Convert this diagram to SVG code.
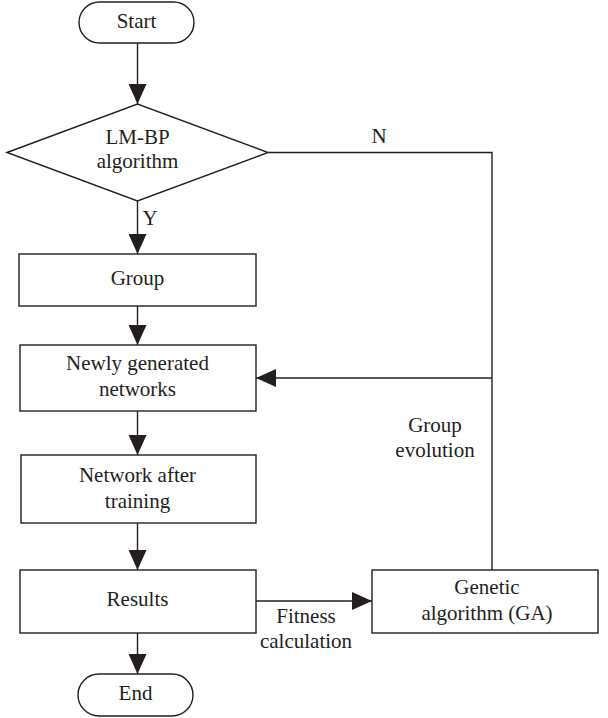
<svg xmlns="http://www.w3.org/2000/svg" width="608" height="718" viewBox="0 0 608 718">
<style>
.shape{fill:#fff;stroke:#231f20;stroke-width:1.4}
.conn{fill:none;stroke:#231f20;stroke-width:1.4}
text{font-family:"Liberation Serif","Times New Roman",serif;font-size:21px;fill:#231f20;text-anchor:middle}
</style>
<defs>
<marker id="arr" viewBox="0 0 20 18" refX="20" refY="9" markerWidth="20" markerHeight="18" markerUnits="userSpaceOnUse" orient="auto">
<path d="M0,0 L20,9 L0,18 z" fill="#231f20"/>
</marker>
</defs>
<rect width="608" height="718" fill="#fff"/>
<g id="connectors">
<path class="conn" d="M137.5 43 V104" marker-end="url(#arr)"/>
<path class="conn" d="M137.5 201 V254" marker-end="url(#arr)"/>
<path class="conn" d="M137.5 306 V345" marker-end="url(#arr)"/>
<path class="conn" d="M137.5 411 V455" marker-end="url(#arr)"/>
<path class="conn" d="M137.5 523 V570" marker-end="url(#arr)"/>
<path class="conn" d="M137.5 633 V674" marker-end="url(#arr)"/>
<path class="conn" d="M256 601 H372" marker-end="url(#arr)"/>
<path class="conn" d="M268 152.5 H492 V570"/>
<path class="conn" d="M492 378 H256" marker-end="url(#arr)"/>
<text x="150" y="225">Y</text>
<text x="379" y="143">N</text>
<text x="435" y="432">Group</text>
<text x="435" y="457">evolution</text>
<text x="306" y="623">Fitness</text>
<text x="306" y="648">calculation</text>
</g>
<g id="start">
<rect class="shape" x="79" y="2" width="115" height="41" rx="20.5"/>
<text x="136.5" y="28">Start</text>
</g>
<g id="decision">
<polygon class="shape" points="7,152.5 137.5,104 268,152.5 137.5,201"/>
<text x="137.5" y="144">LM-BP</text>
<text x="137.5" y="168">algorithm</text>
</g>
<g id="group">
<rect class="shape" x="19" y="254" width="237" height="52"/>
<text x="137.5" y="285">Group</text>
</g>
<g id="newly">
<rect class="shape" x="20" y="345" width="236" height="66"/>
<text x="137.5" y="370">Newly generated</text>
<text x="137.5" y="396">networks</text>
</g>
<g id="network">
<rect class="shape" x="21" y="455" width="235" height="68"/>
<text x="137.5" y="482">Network after</text>
<text x="137.5" y="508">training</text>
</g>
<g id="results">
<rect class="shape" x="20" y="570" width="236" height="63"/>
<text x="137.5" y="606">Results</text>
</g>
<g id="ga">
<rect class="shape" x="372" y="570" width="226" height="63"/>
<text x="487" y="594">Genetic</text>
<text x="487" y="620">algorithm (GA)</text>
</g>
<g id="end">
<rect class="shape" x="78" y="674" width="115" height="42" rx="21"/>
<text x="135.5" y="700">End</text>
</g>
</svg>
